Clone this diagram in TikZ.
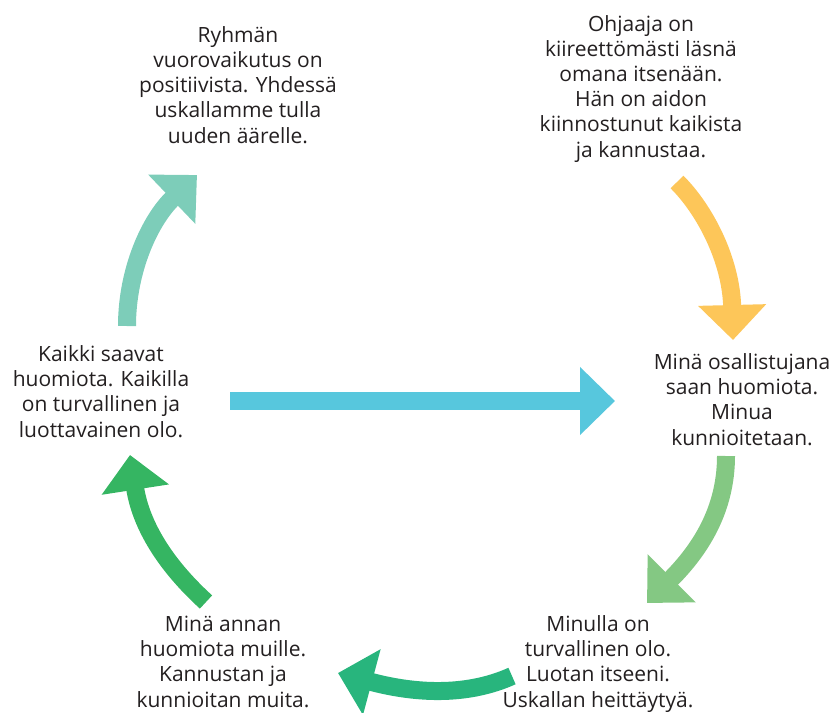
\documentclass[tikz,border=0pt]{standalone}
\usepackage{fontspec}
\setmainfont{Open Sans}
\usepackage{tikz}
\usetikzlibrary{arrows.meta}

\definecolor{tealarr}{HTML}{7DCDB9}
\definecolor{yellowarr}{HTML}{FDC659}
\definecolor{lightgreenarr}{HTML}{84C883}
\definecolor{greenarr}{HTML}{28B57D}
\definecolor{leftgreenarr}{HTML}{35B562}
\definecolor{bluearr}{HTML}{57C7DD}
\definecolor{txt}{HTML}{231F20}

\begin{document}
\begin{tikzpicture}[x=0.5pt,y=-0.5pt,
    bigarrow/.style={line width=9pt,-{Triangle[length=17.5pt,width=33pt]}},
    label/.style={align=center,inner sep=0pt,anchor=base,text=txt,
      font=\fontsize{10.5pt}{12.6pt}\selectfont}]
    \useasboundingbox (0,0) rectangle (839,712);

    % texts (placed at the baseline of their last line)
    \node[label] (ryhma) at (238,143) {Ryhmän\\vuorovaikutus on\\positiivista. Yhdessä\\uskallamme tulla\\uuden äärelle.};
    \node[label] (ohjaaja) at (641,157) {Ohjaaja on\\kiireettömästi läsnä\\omana itsenään.\\Hän on aidon\\kiinnostunut kaikista\\ja kannustaa.};
    \node[label] (mina) at (742,445) {Minä osallistujana\\saan huomiota.\\Minua\\kunnioitetaan.};
    \node[label] (minulla) at (598,707) {Minulla on\\turvallinen olo.\\Luotan itseeni.\\Uskallan heittäytyä.};
    \node[label] (annan) at (223,707) {Minä annan\\huomiota muille.\\Kannustan ja\\kunnioitan muita.};
    \node[label] (kaikki) at (101,437) {Kaikki saavat\\huomiota. Kaikilla\\on turvallinen ja\\luottavainen olo.};

    % arrow ends
    \coordinate (t1) at (127,326);
    \coordinate (t2) at (197,175);
    \coordinate (y1) at (677,182);
    \coordinate (y2) at (733,340);
    \coordinate (g1) at (726,456);
    \coordinate (g2) at (647,603);
    \coordinate (b1) at (512,676);
    \coordinate (b2) at (338,673);
    \coordinate (l1) at (206,602);
    \coordinate (l2) at (130,455);
    \coordinate (c1) at (230,401);
    \coordinate (c2) at (615,401);

    \draw[bigarrow,tealarr] (t1) .. controls (127,270) and (150,220) .. (t2);
    \draw[bigarrow,yellowarr] (y1) .. controls (705,210) and (731,260) .. (y2);
    \draw[bigarrow,lightgreenarr] (g1) .. controls (726,510) and (700,550) .. (g2);
    \draw[bigarrow,greenarr] (b1) .. controls (470,695) and (420,695) .. (b2);
    \draw[bigarrow,leftgreenarr] (l1) .. controls (160,560) and (140,520) .. (l2);
    \draw[bigarrow,bluearr] (c1) -- (c2);
\end{tikzpicture}
\end{document}
